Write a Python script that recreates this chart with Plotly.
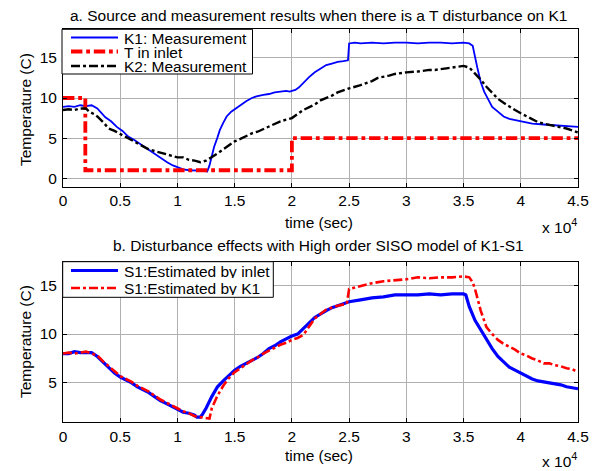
import plotly.graph_objects as go

# ---------------- data (time in seconds) ----------------
t_k1 = [0, 500, 1000, 1500, 2000, 2500, 3000, 3300, 3700, 4200, 4700, 5200, 5700, 6200, 6700,
        7200, 7600, 8100, 8600, 9100, 9600, 10000, 10500, 11000, 11500, 12000, 12400, 12600,
        12800, 13000, 13200, 13500, 13700, 14000, 14300, 14700, 15000, 15500, 16000, 16500,
        16900, 17500, 18000, 18500, 19000, 19500, 19800, 20300, 20600, 21000, 21500, 22000,
        22500, 23000, 23500, 24000, 24500, 24900, 25000, 25500, 26000, 27000, 28000, 29000,
        30000, 31000, 32000, 33000, 34000, 35000, 35500, 35800, 36200, 36500, 36800, 37200,
        37500, 38000, 38500, 39000, 39700, 40500, 41000, 42000, 43000, 44000, 45000]
k1 = [8.9, 9.0, 8.9, 9.1, 9.0, 9.1, 8.7, 8.2, 7.6, 7.1, 6.4, 5.9, 5.2, 4.8, 4.3,
      3.9, 3.5, 3.0, 2.5, 2.0, 1.6, 1.4, 1.1, 1.0, 1.0, 0.95, 0.9, 0.85,
      1.6, 2.9, 3.9, 5.1, 6.0, 6.9, 7.7, 8.3, 8.6, 9.2, 9.6, 10.0,
      10.2, 10.4, 10.5, 10.7, 10.8, 10.9, 10.8, 11.0, 11.3, 11.9, 12.6, 13.2,
      13.6, 14.1, 14.3, 14.5, 14.6, 14.7, 16.8, 16.9, 16.8, 16.9, 16.8, 16.9,
      16.9, 16.8, 16.9, 16.9, 16.8, 16.9, 16.8, 16.5, 13.8, 12.0, 10.8, 9.6,
      8.9, 8.3, 7.7, 7.4, 7.2, 7.0, 6.8, 6.7, 6.6, 6.5, 6.4]

t_inlet = [0, 1950, 1950, 20000, 20000, 45000]
inlet = [10, 10, 1, 1, 5, 5]

t_k2 = [0, 500, 1000, 1500, 2000, 2300, 2700, 3000, 3500, 4000, 4500, 5000, 5500, 6000,
        6500, 7000, 7500, 8000, 8500, 9000, 9500, 10000, 10500, 11000, 11500, 12000,
        12500, 13000, 13500, 14000, 14500, 15000, 15500, 16000, 16500, 17000, 17500,
        18000, 18500, 19000, 19500, 20000, 20500, 21000, 22000, 22500, 23500, 24000,
        25000, 26000, 27000, 27500, 28500, 29000, 30000, 31000, 32000, 32500, 33500,
        34000, 35000, 35500, 36000, 36500, 37000, 37500, 38000, 38500, 39000, 39500,
        40000, 40500, 41000, 41500, 42000, 43000, 44000, 45000]
k2 = [8.5, 8.6, 8.5, 8.7, 8.7, 8.3, 8.0, 7.7, 7.0, 6.2, 5.9, 5.5, 5.1, 4.7,
      4.3, 4.0, 3.6, 3.4, 3.2, 3.0, 2.8, 2.6, 2.6, 2.3, 2.2, 2.0,
      2.2, 2.6, 3.1, 3.6, 4.1, 4.6, 4.9, 5.3, 5.6, 5.8, 6.1,
      6.4, 6.8, 7.1, 7.3, 7.5, 8.0, 8.5, 9.2, 9.7, 10.3, 10.7,
      11.2, 11.6, 12.1, 12.5, 12.8, 13.0, 13.2, 13.3, 13.5, 13.5, 13.7,
      13.8, 14.0, 13.8, 13.1, 12.3, 11.4, 10.6, 9.9, 9.4, 8.9, 8.5,
      8.1, 7.7, 7.4, 7.0, 6.8, 6.5, 6.2, 5.7]

t_s1 = [0, 500, 1000, 1500, 2000, 2500, 3000, 3500, 4000, 4500, 5000, 5500, 6000, 6500,
        7000, 7500, 8000, 8500, 9000, 9500, 10000, 10500, 11000, 11500, 11700, 12000,
        12200, 12500, 13000, 13500, 14000, 14500, 15000, 15500, 16000, 16500, 17000,
        17500, 18000, 18500, 19000, 19500, 20000, 20500, 21000, 22000, 23000, 23500,
        24000, 25000, 26000, 27000, 28000, 29000, 30000, 31000, 32000, 33000, 34000,
        35000, 35200, 35500, 36000, 36500, 37000, 37500, 38000, 38500, 39000, 39500,
        40000, 40500, 41000, 41500, 42000, 42500, 43000, 43500, 44000, 44500, 45000]
s1_inlet = [8.0, 8.0, 8.2, 8.1, 8.1, 8.1, 7.7, 7.1, 6.5, 6.0, 5.6, 5.3, 5.0, 4.6,
            4.3, 4.0, 3.6, 3.2, 2.9, 2.6, 2.3, 2.0, 1.9, 1.7, 1.5, 1.5,
            1.8, 2.4, 3.6, 4.6, 5.2, 5.8, 6.3, 6.7, 7.0, 7.3, 7.6,
            8.0, 8.5, 8.8, 9.2, 9.5, 9.8, 10.0, 10.6, 11.7, 12.4, 12.7,
            12.9, 13.3, 13.5, 13.7, 13.8, 14.0, 14.0, 14.0, 14.1, 14.0, 14.1,
            14.1, 14.0, 12.8, 11.4, 10.4, 9.4, 8.5, 7.7, 7.1, 6.6, 6.3,
            6.0, 5.7, 5.4, 5.2, 5.1, 5.0, 4.9, 4.8, 4.6, 4.5, 4.4]

t_s1k = [0, 500, 1000, 1500, 2000, 2500, 3000, 3500, 4000, 4500, 5000, 5500, 6000, 6500,
         7000, 7500, 8000, 8500, 9000, 9500, 10000, 10500, 11000, 11500, 12000, 12500,
         12800, 13000, 13500, 14000, 14500, 15000, 15500, 16000, 16500, 17000, 17500,
         18000, 18500, 19000, 19500, 20000, 20500, 21000, 22000, 23000, 24000, 24800,
         25000, 26000, 27000, 28000, 29000, 30000, 31000, 32000, 33000, 34000, 35000,
         35500, 35800, 36000, 36500, 37000, 37500, 38000, 38500, 39000, 39500, 40000,
         40500, 41000, 41500, 42000, 42500, 43000, 43500, 44000, 44500, 45000]
s1_k1 = [8.0, 8.1, 8.0, 8.1, 8.2, 8.0, 7.8, 7.2, 6.7, 6.2, 5.7, 5.4, 5.1, 4.7,
         4.4, 4.1, 3.7, 3.3, 3.0, 2.7, 2.4, 2.1, 1.9, 1.6, 1.5, 1.4,
         1.35, 2.4, 3.7, 4.7, 5.5, 6.1, 6.5, 6.9, 7.3, 7.6, 8.0,
         8.3, 8.6, 8.9, 9.1, 9.4, 9.6, 9.9, 11.6, 12.5, 12.9, 13.1,
         14.6, 14.9, 15.2, 15.4, 15.5, 15.6, 15.8, 15.7, 15.8, 15.8, 15.9,
         15.8, 15.3, 14.6, 12.4, 10.7, 10.0, 9.4, 9.0, 8.7, 8.4, 8.0,
         7.8, 7.5, 7.3, 7.0, 7.0, 6.8, 6.7, 6.5, 6.4, 6.1]

x_tickvals = [0, 5000, 10000, 15000, 20000, 25000, 30000, 35000, 40000, 45000]
x_ticktext = ["0", "0.5", "1", "1.5", "2", "2.5", "3", "3.5", "4", "4.5"]
y_top_ticks = [0, 5, 10, 15]
y_bot_ticks = [5, 10, 15]

legend_top_names = ["K1: Measurement", "T in inlet", "K2: Measurement"]
legend_bot_names = ["S1:Estimated by inlet", "S1:Estimated by K1"]

FONT = "Liberation Sans, Arial, sans-serif"
FS = 15.5

# page geometry (the figure sits at an 8px body offset in the page)
OFF = 8
W, H = 601 - OFF, 471 - OFF
L, R, T, B = 55, 23, 21, 49
PX0, PX1 = L + OFF, W - R + OFF          # page x of plot left/right
PY0, PY1 = T + OFF, H - B + OFF          # page y of plot top/bottom


def px(x):
    return (x - PX0) / (PX1 - PX0)


def py(y):
    return (PY1 - y) / (PY1 - PY0)


styles = {
    "K1: Measurement": dict(color="#0000ff", width=1.8),
    "T in inlet": dict(color="#ff0000", width=3.8, dash="dashdot"),
    "K2: Measurement": dict(color="#000000", width=2.4, dash="dashdot"),
    "S1:Estimated by inlet": dict(color="#0000ff", width=3.2),
    "S1:Estimated by K1": dict(color="#ff0000", width=2.6, dash="dashdot"),
}

fig = go.Figure()
fig.add_trace(go.Scatter(x=t_k1, y=k1, mode="lines", name=legend_top_names[0],
                         line=styles[legend_top_names[0]], xaxis="x", yaxis="y"))
fig.add_trace(go.Scatter(x=t_inlet, y=inlet, mode="lines", name=legend_top_names[1],
                         line=styles[legend_top_names[1]], xaxis="x", yaxis="y"))
fig.add_trace(go.Scatter(x=t_k2, y=k2, mode="lines", name=legend_top_names[2],
                         line=styles[legend_top_names[2]], xaxis="x", yaxis="y"))
fig.add_trace(go.Scatter(x=t_s1, y=s1_inlet, mode="lines", name=legend_bot_names[0],
                         line=styles[legend_bot_names[0]], xaxis="x2", yaxis="y2"))
fig.add_trace(go.Scatter(x=t_s1k, y=s1_k1, mode="lines", name=legend_bot_names[1],
                         line=styles[legend_bot_names[1]], xaxis="x2", yaxis="y2"))

axis_common = dict(showline=True, linecolor="black", linewidth=1, mirror="allticks",
                   ticks="inside", ticklen=4, tickcolor="black", showgrid=True,
                   gridcolor="#b0b0b0", gridwidth=1, zeroline=False,
                   tickfont=dict(family=FONT, size=FS, color="black"))

top_dom = [py(186.7), 1]
bot_dom = [0, py(261.7)]

fig.update_layout(
    width=W, height=H,
    margin=dict(l=L, r=R, t=T, b=B),
    paper_bgcolor="white", plot_bgcolor="white",
    font=dict(family=FONT, size=FS, color="black"),
    showlegend=False,
    xaxis=dict(domain=[0, 1], range=[0, 45000], tickvals=x_tickvals, ticktext=x_ticktext,
               anchor="y", **axis_common),
    yaxis=dict(domain=top_dom, range=[-1.05, 18.6], tickvals=y_top_ticks, anchor="x",
               ticklabelstandoff=2, **axis_common),
    xaxis2=dict(domain=[0, 1], range=[0, 45000], tickvals=x_tickvals, ticktext=x_ticktext,
                anchor="y2", **axis_common),
    yaxis2=dict(domain=bot_dom, range=[1.0, 17.4], tickvals=y_bot_ticks, anchor="x2",
                ticklabelstandoff=2, **axis_common),
)

ann = []
shapes = []


def text(t, x, y, xanchor="center", angle=0, height=None):
    a = dict(text=t, xref="paper", yref="paper", x=px(x), y=py(y),
             xanchor=xanchor, yanchor="middle", showarrow=False, textangle=angle,
             font=dict(family=FONT, size=FS, color="black"))
    if height is not None:
        a["height"] = height
    ann.append(a)


text("a. Source and measurement results when there is a T disturbance on K1", 318, 15)
text("b. Disturbance effects with High order SISO model of K1-S1", 318, 245)
text("time (sec)", 319, 222)
text("time (sec)", 319, 455)
text("x 10<sup>4</sup>", 559, 226)
text("x 10<sup>4</sup>", 559, 460)
text("Temperature (C)", 25, 110, angle=-90)
text("Temperature (C)", 25, 342, angle=-90)


def legend_box(x0, y0, x1, y1, names, ys):
    shapes.append(dict(type="rect", xref="paper", yref="paper",
                       x0=px(x0), x1=px(x1), y0=py(y0), y1=py(y1),
                       line=dict(color="black", width=1), fillcolor="white", layer="above"))
    for name, yy in zip(names, ys):
        st = styles[name]
        shapes.append(dict(type="line", xref="paper", yref="paper",
                           x0=px(71), x1=px(118), y0=py(yy), y1=py(yy),
                           line=dict(color=st["color"], width=st["width"],
                                     dash=st.get("dash", "solid")), layer="above"))
        text(name, 122, yy + 1, xanchor="left", height=13)


legend_box(62, 29.3, 252.5, 74, legend_top_names, [37.5, 51.5, 66])
legend_box(62.7, 261.7, 273.3, 297.3, legend_bot_names, [270.5, 288])

fig.update_layout(annotations=ann, shapes=shapes)

fig.write_html("out.html")
